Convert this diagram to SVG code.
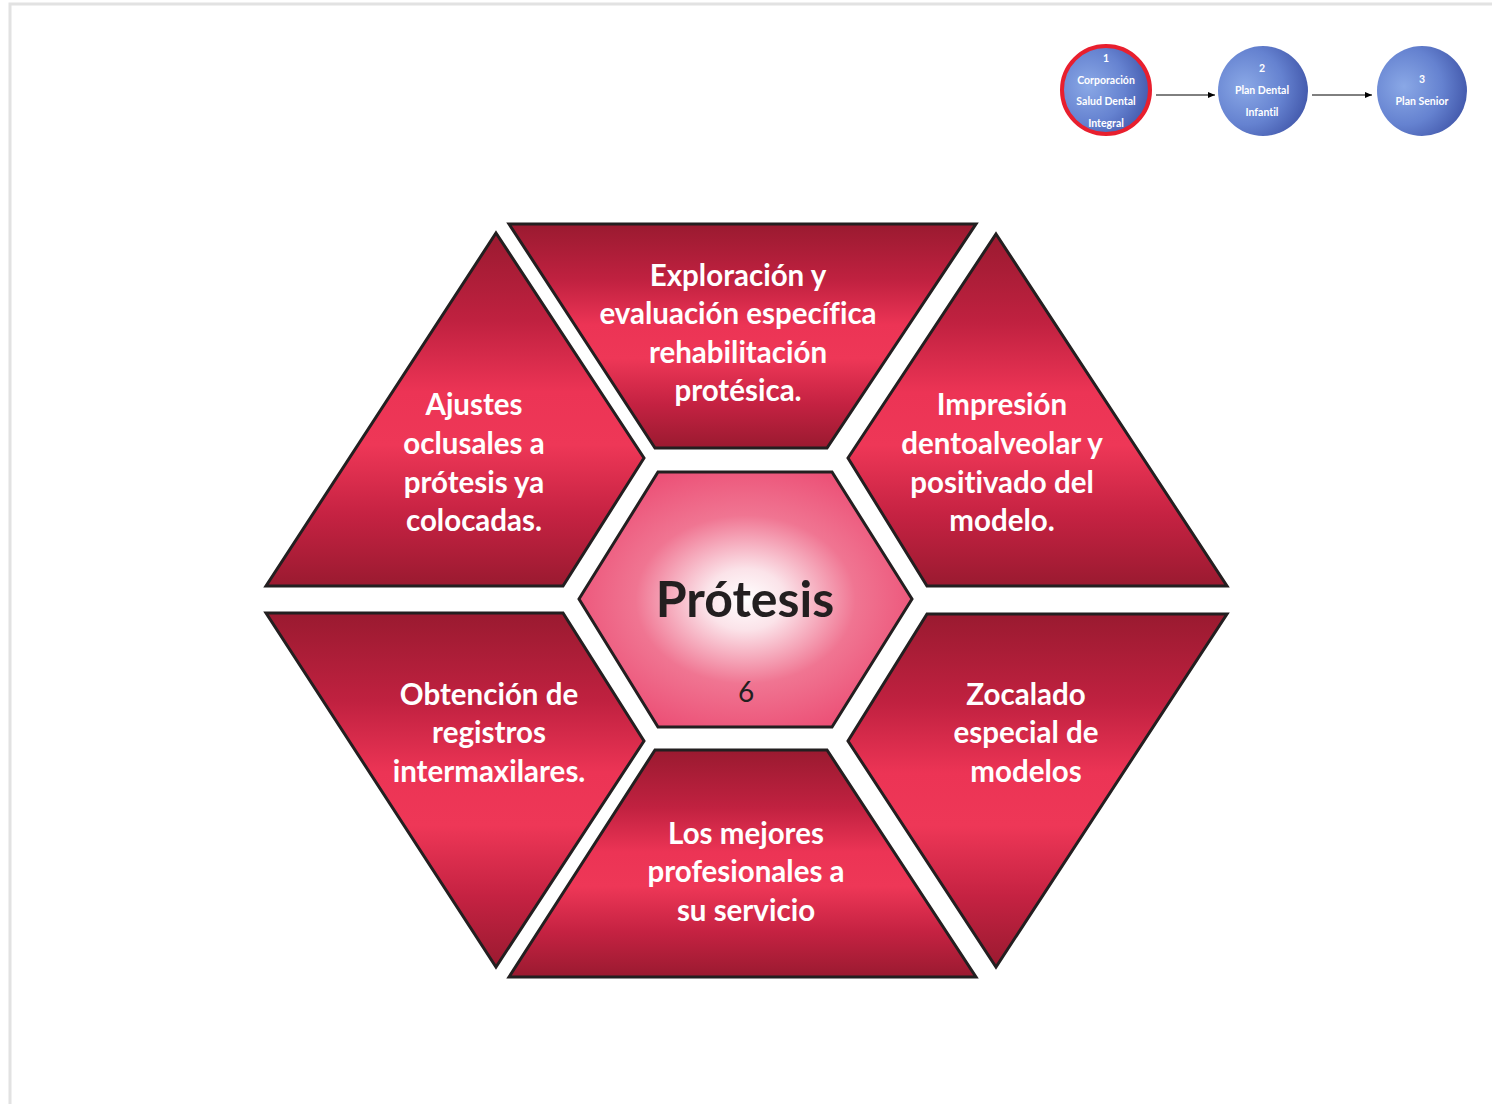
<svg xmlns="http://www.w3.org/2000/svg" width="1492" height="1104" viewBox="0 0 1492 1104">
<defs>
<linearGradient id="red" x1="0" y1="0" x2="0" y2="1">
<stop offset="0" stop-color="#9A1A30"/>
<stop offset="0.25" stop-color="#C02140"/>
<stop offset="0.45" stop-color="#EC3455"/>
<stop offset="0.6" stop-color="#EE3757"/>
<stop offset="0.8" stop-color="#C52242"/>
<stop offset="1" stop-color="#9A1A30"/>
</linearGradient>
<radialGradient id="pink" cx="0.5" cy="0.5" r="0.6">
<stop offset="0" stop-color="#FFFFFF"/>
<stop offset="0.2" stop-color="#FBE3E9"/>
<stop offset="0.55" stop-color="#F07592"/>
<stop offset="1" stop-color="#EB4870"/>
</radialGradient>
<radialGradient id="blue" cx="0.3" cy="0.45" r="0.85">
<stop offset="0" stop-color="#8AA8E6"/>
<stop offset="0.5" stop-color="#6582D0"/>
<stop offset="1" stop-color="#34479C"/>
</radialGradient>
<marker id="arr" markerWidth="8" markerHeight="8" refX="7" refY="4" orient="auto" markerUnits="userSpaceOnUse">
<path d="M0,1 L7,4 L0,7 Z" fill="#000"/>
</marker>
</defs>
<style>
text{font-variant-ligatures:none;font-feature-settings:"liga" 0,"dlig" 0,"clig" 0}
.seg{fill:url(#red);stroke:#231F20;stroke-width:3;stroke-linejoin:miter}
.lbl{font-family:Lato,"Open Sans","Liberation Sans",sans-serif;font-weight:bold;font-size:29.5px;fill:#FFFFFF;text-anchor:middle}
.ct{font-family:Lato,"Open Sans","Liberation Sans",sans-serif;font-weight:bold;font-size:10.5px;fill:#FFFFFF;text-anchor:middle}
.circ{fill:url(#blue)}
.conn{stroke:#000;stroke-width:1;fill:none;marker-end:url(#arr)}
</style>
<rect width="1492" height="1104" fill="#FFFFFF"/>
<path d="M10,1104 L10,4 L1492,4" fill="none" stroke="#E2E2E2" stroke-width="3"/>

<g id="n-exploracion">
<polygon class="seg" points="509,224 976,224 827,448 655,448"/>
<text class="lbl" x="738" y="286">Exploración y</text>
<text class="lbl" x="738" y="324">evaluación específica</text>
<text class="lbl" x="738" y="363">rehabilitación</text>
<text class="lbl" x="738" y="401">protésica.</text>
</g>
<g id="n-ajustes">
<polygon class="seg" points="496,233 644,458 563,586 266,586"/>
<text class="lbl" x="474" y="415">Ajustes</text>
<text class="lbl" x="474" y="454">oclusales a</text>
<text class="lbl" x="474" y="493">prótesis ya</text>
<text class="lbl" x="474" y="531">colocadas.</text>
</g>
<g id="n-impresion">
<polygon class="seg" points="996,234 1227,586 927,586 848,458"/>
<text class="lbl" x="1002" y="415">Impresión</text>
<text class="lbl" x="1002" y="454">dentoalveolar y</text>
<text class="lbl" x="1002" y="493">positivado del</text>
<text class="lbl" x="1002" y="531">modelo.</text>
</g>
<g id="n-obtencion">
<polygon class="seg" points="266,613 563,613 644,741 496,967"/>
<text class="lbl" x="489" y="705">Obtención de</text>
<text class="lbl" x="489" y="743">registros</text>
<text class="lbl" x="489" y="782">intermaxilares.</text>
</g>
<g id="n-zocalado">
<polygon class="seg" points="927,614 1227,614 996,967 848,741"/>
<text class="lbl" x="1026" y="705">Zocalado</text>
<text class="lbl" x="1026" y="743">especial de</text>
<text class="lbl" x="1026" y="782">modelos</text>
</g>
<g id="n-profesionales">
<polygon class="seg" points="655,750 827,750 976,977 509,977"/>
<text class="lbl" x="746" y="844">Los mejores</text>
<text class="lbl" x="746" y="882">profesionales a</text>
<text class="lbl" x="746" y="921">su servicio</text>
</g>
<g id="n-protesis">
<polygon points="579,599 658,472 832,472 912,599 832,727 658,727" fill="url(#pink)" stroke="#231F20" stroke-width="3"/>
<text x="745" y="617" text-anchor="middle" font-family="Lato,'Open Sans','Liberation Sans',sans-serif" font-weight="bold" font-size="50" fill="#231F20">Prótesis</text>
<text x="746" y="702" text-anchor="middle" font-family="Lato,'Open Sans','Liberation Sans',sans-serif" font-size="28" fill="#231F20">6</text>
</g>

<g id="n-step1">
<circle class="circ" cx="1106" cy="90" r="44" stroke="#E81F2E" stroke-width="4"/>
<text class="ct" x="1106" y="62">1</text>
<text class="ct" x="1106" y="84">Corporación</text>
<text class="ct" x="1106" y="105">Salud Dental</text>
<text class="ct" x="1106" y="127">Integral</text>
</g>
<g id="n-step2">
<circle class="circ" cx="1263" cy="91" r="45"/>
<text class="ct" x="1262" y="72">2</text>
<text class="ct" x="1262" y="94">Plan Dental</text>
<text class="ct" x="1262" y="116">Infantil</text>
</g>
<g id="n-step3">
<circle class="circ" cx="1422" cy="91" r="45"/>
<text class="ct" x="1422" y="83">3</text>
<text class="ct" x="1422" y="105">Plan Senior</text>
</g>
<g id="connectors">
<line class="conn" x1="1156" y1="95" x2="1215" y2="95"/>
<line class="conn" x1="1312" y1="95" x2="1372" y2="95"/>
</g>
</svg>
